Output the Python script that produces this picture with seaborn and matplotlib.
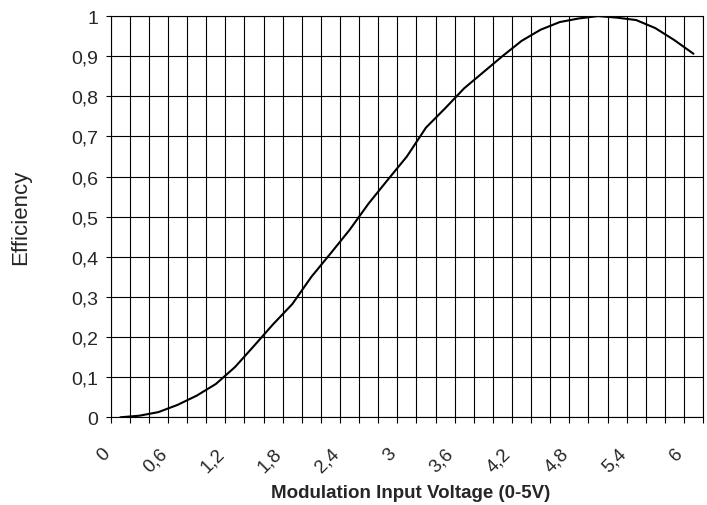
import matplotlib
matplotlib.use("Agg")
import matplotlib.pyplot as plt
from matplotlib.ticker import FixedLocator
from matplotlib.transforms import ScaledTranslation
import seaborn as sns

# data (one point per category, 0.2 V apart)
voltage = [0.0, 0.2, 0.4, 0.6, 0.8, 1.0, 1.2, 1.4, 1.6, 1.8, 2.0,
           2.2, 2.4, 2.6, 2.8, 3.0, 3.2, 3.4, 3.6, 3.8, 4.0,
           4.2, 4.4, 4.6, 4.8, 5.0, 5.2, 5.4, 5.6, 5.8, 6.0]
efficiency = [0.0, 0.004, 0.013, 0.031, 0.054, 0.083, 0.125, 0.178, 0.232, 0.282, 0.35,
              0.408, 0.467, 0.533, 0.592, 0.65, 0.722, 0.77, 0.82, 0.86, 0.9,
              0.938, 0.966, 0.985, 0.994, 1.0, 0.996, 0.99, 0.97, 0.94, 0.906]

x_ticks = [0.0, 0.6, 1.2, 1.8, 2.4, 3.0, 3.6, 4.2, 4.8, 5.4, 6.0]
x_labels = ["0", "0,6", "1,2", "1,8", "2,4", "3", "3,6", "4,2", "4,8", "5,4", "6"]
y_ticks = [0, 0.1, 0.2, 0.3, 0.4, 0.5, 0.6, 0.7, 0.8, 0.9, 1.0]
y_labels = ["0", "0,1", "0,2", "0,3", "0,4", "0,5", "0,6", "0,7", "0,8", "0,9", "1"]

sns.set_style("white")
plt.rcParams["font.family"] = ["Liberation Sans", "DejaVu Sans"]

fig = plt.figure(figsize=(7.07, 5.06), dpi=100)
ax = fig.add_axes([0.1566, 0.1733, 0.8378, 0.793])

sns.lineplot(x=voltage, y=efficiency, color="black", linewidth=1.5, ax=ax)

# category boundaries -> vertical grid lines
step = voltage[1] - voltage[0]
bounds = [v - step / 2 for v in voltage] + [voltage[-1] + step / 2]
ax.set_xlim(bounds[0], bounds[-1])
ax.set_ylim(0, 1)

ax.xaxis.set_minor_locator(FixedLocator(bounds))
ax.set_xticks(x_ticks)
ax.set_xticklabels(x_labels, rotation=45, ha="right", va="center",
                   rotation_mode="anchor", fontsize=13.5)
ax.tick_params(axis="x", which="major", length=0, pad=24)
ax.tick_params(axis="x", which="minor", length=4, width=0.8, color="black", direction="out", bottom=True)
shift = ScaledTranslation(-0.13, 0, fig.dpi_scale_trans)
for lbl in ax.get_xticklabels():
    lbl.set_transform(lbl.get_transform() + shift)

ax.set_yticks(y_ticks)
ax.set_yticklabels(y_labels, fontsize=14)
ax.tick_params(axis="y", which="major", length=3.6, width=0.8, color="black", direction="out", left=True, pad=5.5)

ax.grid(True, which="minor", axis="x", color="black", linewidth=0.8)
ax.grid(True, which="major", axis="y", color="black", linewidth=0.8)
ax.grid(False, which="major", axis="x")

for s in ax.spines.values():
    s.set_color("black")
    s.set_linewidth(0.8)

ax.set_ylabel("Efficiency", fontsize=16)
ax.yaxis.set_label_coords(-0.134, 0.5)
ax.set_xlabel("Modulation Input Voltage (0-5V)", fontsize=13.5, fontweight="bold")
ax.xaxis.set_label_coords(0.506, -0.166)

fig.savefig("out.png", dpi=100)
